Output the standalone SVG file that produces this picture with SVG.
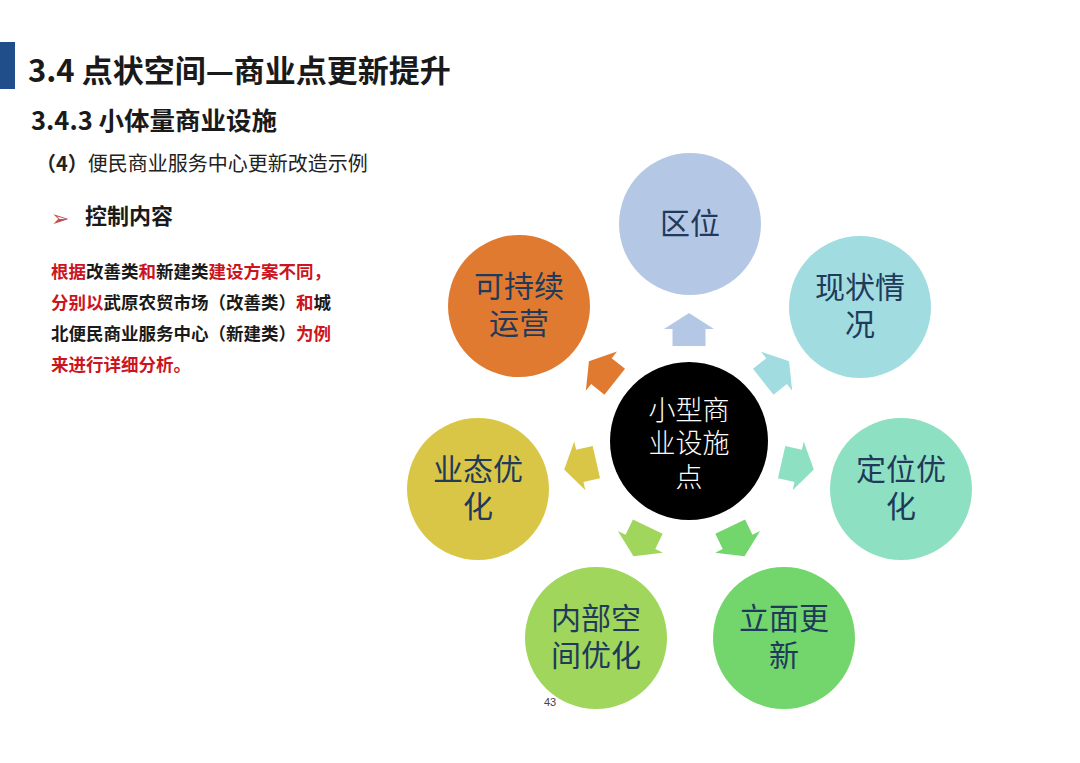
<svg xmlns="http://www.w3.org/2000/svg" width="1080" height="763" viewBox="0 0 1080 763">
<defs>
<style>
.t{font-family:"Noto Sans CJK SC","Noto Sans",sans-serif;}
.b{font-weight:bold;}
.red{fill:#CC1420;}
.blk{fill:#1a1a1a;}
.lbl{font-family:"Noto Sans CJK SC",sans-serif;font-size:30px;fill:#1F3A5A;text-anchor:middle;}
.ctr{font-family:"Noto Sans CJK SC",sans-serif;font-size:27px;fill:#ffffff;font-weight:300;text-anchor:middle;}
</style>
<polygon id="arr" points="95,-16.5 112,-16.5 112,-25 128,0 112,25 112,16.5 95,16.5"/>
</defs>
<rect width="1080" height="763" fill="#ffffff"/>

<g id="header">
<rect x="0" y="42" width="15" height="47" fill="#1F4E8A"/>
<text class="t b blk" x="28" y="82" font-size="31">3.4 点状空间—商业点更新提升</text>
<text class="t b blk" x="31" y="130" font-size="25.5">3.4.3 小体量商业设施</text>
<text class="t" x="36" y="171" font-size="20" fill="#222"><tspan font-weight="bold">（4）</tspan>便民商业服务中心更新改造示例</text>
<text x="51" y="226" font-family="DejaVu Sans,sans-serif" font-size="22" fill="#C0504D">➢</text>
<text class="t b blk" x="85" y="224" font-size="22">控制内容</text>
</g>

<g id="paragraph" class="t b" font-size="17.5">
<text x="51" y="278"><tspan class="red">根据</tspan><tspan class="blk">改善类</tspan><tspan class="red">和</tspan><tspan class="blk">新建类</tspan><tspan class="red">建设方案不同，</tspan><tspan x="51" dy="31" class="red">分别以</tspan><tspan class="blk">武原农贸市场（改善类）</tspan><tspan class="red">和</tspan><tspan class="blk">城</tspan><tspan x="51" dy="31" class="blk">北便民商业服务中心（新建类）</tspan><tspan class="red">为例</tspan><tspan x="51" dy="31" class="red">来进行详细分析。</tspan></text>
</g>

<g id="connectors">
<use href="#arr" transform="translate(689,441) rotate(-90)" fill="#B4C8E6"/>
<use href="#arr" transform="translate(689,441) rotate(-38.571)" fill="#A0DCE0"/>
<use href="#arr" transform="translate(689,441) rotate(12.857)" fill="#8EE0C2"/>
<use href="#arr" transform="translate(689,441) rotate(64.286)" fill="#72D66C"/>
<use href="#arr" transform="translate(689,441) rotate(115.714)" fill="#A0D65C"/>
<use href="#arr" transform="translate(689,441) rotate(167.143)" fill="#DAC646"/>
<use href="#arr" transform="translate(689,441) rotate(218.571)" fill="#E07A30"/>
</g>

<g id="center">
<circle cx="689" cy="441" r="79" fill="#000000"/>
<text class="ctr" x="689" y="420">小型商<tspan x="689" dy="33">业设施</tspan><tspan x="689" dy="34">点</tspan></text>
</g>

<g id="n-quwei">
<circle cx="690" cy="224" r="71" fill="#B4C8E6"/>
<text class="lbl" x="690" y="234">区位</text>
</g>

<g id="n-xianzhuang">
<circle cx="860" cy="307" r="71" fill="#A0DCE0"/>
<text class="lbl" x="860" y="298">现状情<tspan x="860" dy="37">况</tspan></text>
</g>

<g id="n-dingwei">
<circle cx="901" cy="489" r="71" fill="#8EE0C2"/>
<text class="lbl" x="901" y="480">定位优<tspan x="901" dy="37">化</tspan></text>
</g>

<g id="n-limian">
<circle cx="784" cy="638" r="71" fill="#72D66C"/>
<text class="lbl" x="784" y="629">立面更<tspan x="784" dy="37">新</tspan></text>
</g>

<g id="n-neibu">
<circle cx="596" cy="638" r="71" fill="#A0D65C"/>
<text class="lbl" x="596" y="629">内部空<tspan x="596" dy="37">间优化</tspan></text>
</g>

<g id="n-yetai">
<circle cx="478" cy="489" r="71" fill="#DAC646"/>
<text class="lbl" x="478" y="480">业态优<tspan x="478" dy="37">化</tspan></text>
</g>

<g id="n-kechixu">
<circle cx="519" cy="306" r="71" fill="#E07A30"/>
<text class="lbl" x="519" y="297">可持续<tspan x="519" dy="37">运营</tspan></text>
</g>

<text id="page" x="550" y="706" font-family="Liberation Sans,sans-serif" font-size="11" fill="#444" text-anchor="middle">43</text>
</svg>
